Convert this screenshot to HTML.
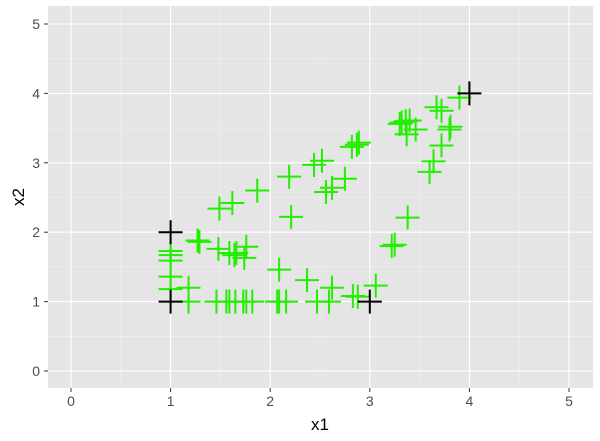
<!DOCTYPE html>
<html><head><meta charset="utf-8"><style>
body{margin:0;background:#fff;}
svg{display:block;font-family:"Liberation Sans",sans-serif;}
</style></head><body>
<svg id="chart" width="600" height="441">
<rect x="48" y="6" width="545" height="382" fill="#e5e5e5"/>
<g id="grid"></g><g id="pts"></g><g id="axes"></g>
<text x="320" y="430" text-anchor="middle" font-size="17">x1</text>
<text x="24" y="197" text-anchor="middle" font-size="17" transform="rotate(-90 24 197)">x2</text>
</svg>
<script>
const ticks=[0,1,2,3,4,5];
const tickLabels=["0","1","2","3","4","5"];
const greenX=[1,1,1,1,1,1.18,1.18,1.27,1.29,1.48,1.59,1.64,1.66,1.76,1.74,2.09,2.37,2.62,2.83,2.88,3.06,1.46,1.56,1.59,1.65,1.73,1.76,1.82,2.07,2.09,2.16,2.47,2.59,3.90,3.67,3.72,3.32,3.36,3.40,3.37,3.46,3.30,3.81,3.80,3.72,3.64,3.60,3.38,3.25,3.22,2.82,2.89,2.87,2.44,2.52,2.75,2.62,2.56,2.19,1.87,1.62,1.49,2.21];
const greenY=[1.73,1.67,1.59,1.36,1.18,1.20,1.0,1.88,1.86,1.76,1.70,1.67,1.70,1.79,1.63,1.46,1.31,1.20,1.08,1.07,1.23,1,1,1,1,1,1,1,1,1,1,1,1,3.94,3.80,3.75,3.58,3.60,3.61,3.41,3.48,3.56,3.52,3.48,3.25,3.02,2.87,2.21,1.82,1.80,3.23,3.29,3.26,2.97,3.03,2.77,2.64,2.58,2.80,2.60,2.42,2.34,2.22];
const blackX=[1,1,3,4];
const blackY=[2,1,1,4];
const sx=v=>71+v*99.6, sy=v=>371-v*69.4;
const NS="http://www.w3.org/2000/svg";
function mk(t,a,p){const e=document.createElementNS(NS,t);for(const k in a)e.setAttribute(k,a[k]);p.appendChild(e);return e;}
const grid=document.getElementById('grid'),axes=document.getElementById('axes'),pts=document.getElementById('pts');
for(let v=0.5;v<5.5;v+=1){
 let l=mk('line',{x1:sx(v),x2:sx(v),y1:6,y2:388,stroke:'#f2f2f2','stroke-width':0.6},grid);
 
 
 let m=mk('line',{x1:48,x2:593,y1:sy(v),y2:sy(v),stroke:'#f2f2f2','stroke-width':0.6},grid);
 
 
}
ticks.forEach((v,i)=>{
 let l=mk('line',{x1:sx(v),x2:sx(v),y1:6,y2:388,stroke:'#fff','stroke-width':1.1},grid);
 
 
 let m=mk('line',{x1:48,x2:593,y1:sy(v),y2:sy(v),stroke:'#fff','stroke-width':1.1},grid);
 
 
 mk('line',{x1:sx(v),x2:sx(v),y1:388,y2:392,stroke:'#333'},axes);
 mk('line',{x1:44,x2:48,y1:sy(v),y2:sy(v),stroke:'#333'},axes);
 let tx=mk('text',{x:sx(v),y:406,'text-anchor':'middle','font-size':14,fill:'#4d4d4d'},axes);tx.textContent=tickLabels[i];
 
 
 let ty=mk('text',{x:40,y:sy(v)+5,'text-anchor':'end','font-size':14,fill:'#4d4d4d'},axes);ty.textContent=tickLabels[i];
 
 
});
function cross(x,y,c){
 const g=mk('g',{stroke:c,'stroke-width':2},pts);
 mk('line',{x1:sx(x)-12,x2:sx(x)+12,y1:sy(y),y2:sy(y)},g);
 mk('line',{x1:sx(x),x2:sx(x),y1:sy(y)-12,y2:sy(y)+12},g);
 return g;
}
greenX.forEach((x,i)=>{const g=cross(x,greenY[i],'#22ee00');
 
 });
blackX.forEach((x,i)=>{const g=cross(x,blackY[i],'#000');
 
 });
</script>
</body></html>
